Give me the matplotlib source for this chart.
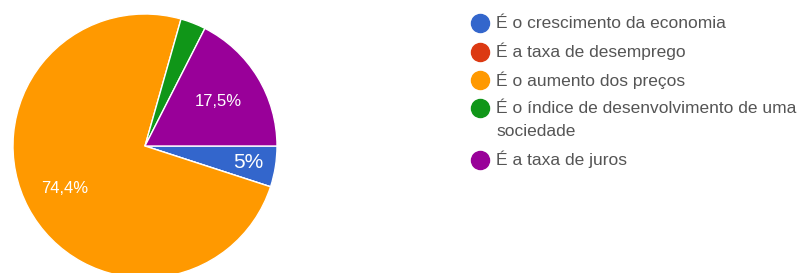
import matplotlib
matplotlib.use("Agg")
import matplotlib.pyplot as plt
from matplotlib.lines import Line2D
import numpy as np

categories = [
    "É o crescimento da economia",
    "É a taxa de desemprego",
    "É o aumento dos preços",
    "É o índice de desenvolvimento de uma\nsociedade",
    "É a taxa de juros",
]
values = [5.0, 0.0, 74.4, 3.1, 17.5]
colors = ["#3366cc", "#dc3912", "#ff9900", "#109618", "#990099"]

plt.rcParams['font.family'] = ['Liberation Sans', 'DejaVu Sans']

W, H = 801, 273
fig = plt.figure(figsize=(W / 100, H / 100), dpi=100)

# pie axes: centre ~ (145, 146) px, radius ~132 px
cx, cy, r = 145, 146, 132
ax = fig.add_axes([(cx - r) / W, (H - cy - r) / H, 2 * r / W, 2 * r / H])
wedges, _ = ax.pie(values, colors=colors, startangle=0, counterclock=False,
                   radius=1, wedgeprops=dict(edgecolor="white", linewidth=1))
ax.set_xlim(-1, 1)
ax.set_ylim(-1, 1)
ax.set_aspect("equal")
ax.axis("off")


def pct_text(v):
    s = "%.1f" % v
    if s.endswith(".0"):
        s = s[:-2]
    return s.replace(".", ",") + "%"


# label distance / size per slice (small slices get no label)
dists = {0: 0.79, 2: 0.69, 4: 0.65}
sizes = {0: 15, 2: 12, 4: 12}
for i, w in enumerate(wedges):
    if i not in dists:
        continue
    ang = np.deg2rad((w.theta1 + w.theta2) / 2)
    d = dists[i]
    ax.text(d * np.cos(ang), d * np.sin(ang), pct_text(values[i]),
            ha="center", va="center", color="white", fontsize=sizes[i])

# legend drawn by hand so the dot sits on the first line of a wrapped label
mx, tx = 480, 496          # dot centre / text start, px
y = 23                     # first row centre, px from top
row_step, line_step = 28.5, 22.5
for lab, c in zip(categories, colors):
    fig.add_artist(Line2D([mx / W], [1 - y / H], transform=fig.transFigure,
                          marker="o", markersize=13, linestyle="none",
                          markerfacecolor=c, markeredgecolor=c))
    lines = lab.split("\n")
    for k, ln in enumerate(lines):
        fig.text(tx / W, 1 - (y + k * line_step) / H, ln, ha="left",
                 va="center", fontsize=12.5, color="#555555")
    y += row_step + line_step * (len(lines) - 1)

fig.savefig("out.png", dpi=100)
